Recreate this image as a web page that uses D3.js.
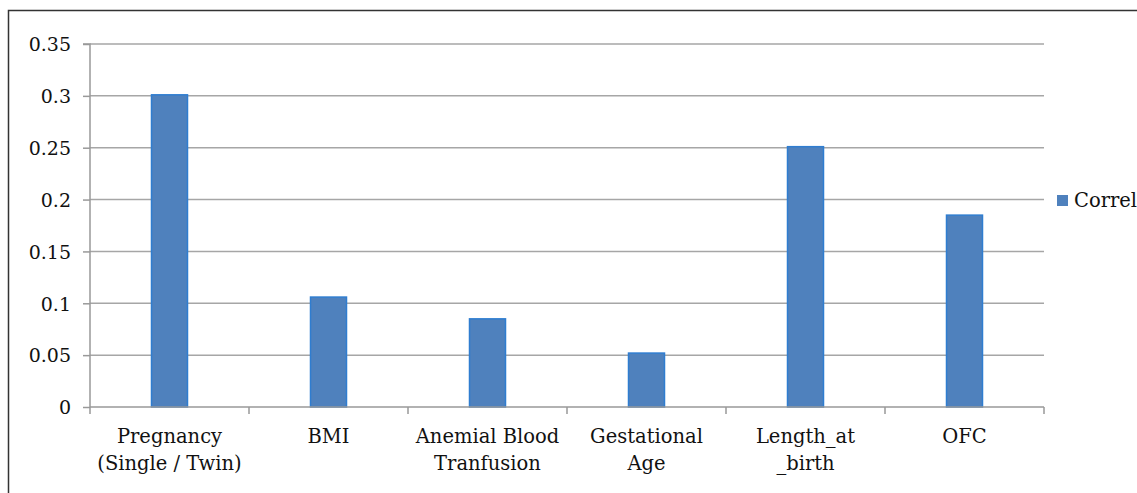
<!DOCTYPE html>
<html>
<head>
<meta charset="utf-8">
<script src="https://cdn.jsdelivr.net/npm/d3@7/dist/d3.min.js"></script>
<style>
  html, body { margin: 0; padding: 0; background: #fff; }
  svg { display: block; }
  svg text { font-family: "DejaVu Serif", serif; fill: #111; }
</style>
</head>
<body>
<svg id="chart" width="1137" height="493"></svg>
<script>
const categories = ["Pregnancy (Single / Twin)", "BMI", "Anemial Blood Tranfusion", "Gestational Age", "Length_at _birth", "OFC"];
const categoryLines = [["Pregnancy", "(Single / Twin)"], ["BMI"], ["Anemial Blood", "Tranfusion"], ["Gestational", "Age"], ["Length_at", "_birth"], ["OFC"]];
const correl = [0.301, 0.106, 0.085, 0.052, 0.251, 0.185];
const yTicks = [0, 0.05, 0.1, 0.15, 0.2, 0.25, 0.3, 0.35];
const yTickLabels = ["0", "0.05", "0.1", "0.15", "0.2", "0.25", "0.3", "0.35"];
const seriesName = "Correl";

(function () {
const svg = d3.select("#chart");

// outer border
svg.append("rect")
  .attr("x", 8.5).attr("y", 10.5)
  .attr("width", 1140).attr("height", 500)
  .attr("fill", "none").attr("stroke", "#333").attr("stroke-width", 1.5);

const pLeft = 90, pRight = 1044, pTop = 44, pBottom = 407;

const x = d3.scaleBand().domain(categories).range([pLeft, pRight]).paddingInner(0).paddingOuter(0);
const y = d3.scaleLinear().domain([0, 0.35]).range([pBottom, pTop]);

// gridlines
svg.append("g").selectAll("line").data(yTicks.slice(1)).join("line")
  .attr("x1", pLeft).attr("x2", pRight)
  .attr("y1", d => y(d)).attr("y2", d => y(d))
  .attr("stroke", "#a6a6a6").attr("stroke-width", 1.5);

// y axis
const yAxis = d3.axisLeft(y).tickValues(yTicks).tickSize(7).tickFormat((d, i) => yTickLabels[i]).tickPadding(12);
const gy = svg.append("g").attr("transform", `translate(${pLeft},0)`).call(yAxis);
gy.attr("font-family", null);
gy.select(".domain").attr("stroke", "#999").attr("stroke-width", 1.5).attr("d", `M-7,${pTop}H0V${pBottom}`);
gy.selectAll(".tick line").attr("stroke", "#999").attr("stroke-width", 1.5);
gy.selectAll(".tick text")
  .attr("font-size", 19).attr("fill", "#111")
  .attr("dy", "0.36em");

// bars
const bw = 36;
svg.append("g").selectAll("rect").data(correl).join("rect")
  .attr("x", (d, i) => x(categories[i]) + x.bandwidth() / 2 - bw / 2)
  .attr("y", d => y(d))
  .attr("width", bw)
  .attr("height", d => y(0) - y(d))
  .attr("fill", "#4F81BD")
  .attr("stroke", "#2F7DD0").attr("stroke-width", 1.5);

// x axis
const gx = svg.append("g").attr("transform", `translate(0,${pBottom})`);
gx.append("line").attr("x1", pLeft).attr("x2", pRight).attr("y1", 0).attr("y2", 0)
  .attr("stroke", "#999").attr("stroke-width", 1.5);
const boundaries = categories.map(c => x(c)).concat([pRight]);
gx.selectAll("line.tk").data(boundaries).join("line").attr("class", "tk")
  .attr("x1", d => d).attr("x2", d => d).attr("y1", 0).attr("y2", 7)
  .attr("stroke", "#999").attr("stroke-width", 1.5);

const labels = svg.append("g");
categoryLines.forEach((lines, i) => {
  const cx = x(categories[i]) + x.bandwidth() / 2;
  const t = labels.append("text")
    .attr("text-anchor", "middle")
    .attr("font-size", 19.5);
  lines.forEach((ln, j) => {
    t.append("tspan").attr("x", cx).attr("y", 443 + j * 27).text(ln);
  });
});

// legend
svg.append("rect").attr("x", 1057).attr("y", 195).attr("width", 11).attr("height", 11)
  .attr("fill", "#4F81BD");
svg.append("text").attr("x", 1074).attr("y", 207)
  .attr("font-size", 19.5)
  .text(seriesName);
})();
</script>
</body>
</html>
